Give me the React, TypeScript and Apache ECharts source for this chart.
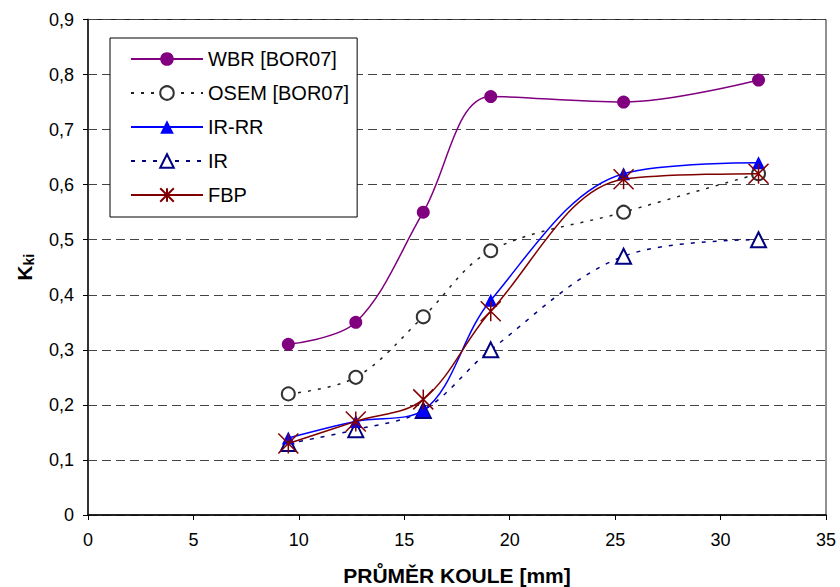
import React, { useEffect, useRef } from "react";
import * as echarts from "echarts";

const diameters = [9.5, 12.7, 15.9, 19.1, 25.4, 31.8];
const seriesNames = ["WBR [BOR07]", "OSEM [BOR07]", "IR-RR", "IR", "FBP"];
const wbr = [0.31, 0.35, 0.55, 0.76, 0.75, 0.79];
const osem = [0.22, 0.25, 0.36, 0.48, 0.55, 0.62];
const irrr = [0.14, 0.17, 0.19, 0.39, 0.62, 0.64];
const ir = [0.13, 0.155, 0.19, 0.30, 0.47, 0.50];
const fbp = [0.13, 0.17, 0.21, 0.37, 0.61, 0.62];

const FONT = "'Liberation Sans', Arial, sans-serif";
const STAR = "path://M0,0L10,10M10,0L0,10M5,0L5,10";

const pairs = (ys: number[]) => diameters.map((x, i) => [x, ys[i]]);

export default function App() {
  const ref = useRef<HTMLDivElement>(null);
  useEffect(() => {
    const chart = echarts.init(ref.current!, null, { renderer: "svg" });
    const smooth = 0.35;
    chart.setOption({
      animation: false,
      backgroundColor: "#fff",
      grid: {
        left: 88,
        right: 14,
        top: 19.5,
        bottom: 72,
        show: true,
        borderColor: "#222",
        borderWidth: 1,
        backgroundColor: "transparent",
        containLabel: false,
        outerBoundsMode: "none",
      },
      legend: {
        orient: "vertical",
        left: 110,
        top: 38,
        padding: [11, 8, 12, 20],
        itemWidth: 72,
        itemHeight: 17,
        itemGap: 14,
        borderColor: "#000",
        borderWidth: 1,
        backgroundColor: "#fff",
        textStyle: { fontFamily: FONT, fontSize: 20, color: "#000" },
        data: seriesNames,
      },
      xAxis: {
        type: "value",
        min: 0,
        max: 35,
        interval: 5,
        name: "PRŮMĚR KOULE [mm]",
        nameLocation: "middle",
        nameGap: 50,
        nameTextStyle: { fontFamily: FONT, fontSize: 21, fontWeight: "bold", color: "#000" },
        axisLine: { onZero: false, lineStyle: { color: "#000", width: 1.5 } },
        axisTick: { show: true, length: 5, lineStyle: { color: "#000" } },
        axisLabel: { fontFamily: FONT, fontSize: 18, color: "#000", margin: 16 },
        splitLine: { show: false },
      },
      yAxis: {
        type: "value",
        min: 0,
        max: 0.9,
        interval: 0.1,
        name: "{a|K}{b|ki}",
        nameLocation: "middle",
        nameGap: 52,
        nameRotate: 90,
        nameTextStyle: {
          rich: {
            a: { fontFamily: FONT, fontSize: 21, fontWeight: "bold", color: "#000" },
            b: { fontFamily: FONT, fontSize: 14, fontWeight: "bold", color: "#000", padding: [9, 0, 0, 0] },
          },
        },
        axisLine: { show: true, lineStyle: { color: "#333", width: 2 } },
        axisTick: { show: true, length: 5, lineStyle: { color: "#000" } },
        axisLabel: {
          fontFamily: FONT,
          fontSize: 18,
          color: "#000",
          margin: 14,
          formatter: (v: number) => (v === 0 ? "0" : v.toFixed(1).replace(".", ",")),
        },
        splitLine: { show: true, lineStyle: { color: "#444", width: 1.2, type: [9, 5] } },
      },
      series: [
        {
          name: seriesNames[0],
          type: "line",
          data: pairs(wbr),
          smooth,
          symbol: "circle",
          symbolSize: 13,
          lineStyle: { color: "#800080", width: 1.5 },
          itemStyle: { color: "#800080" },
          z: 5,
        },
        {
          name: seriesNames[1],
          type: "line",
          data: pairs(osem),
          smooth,
          symbol: "emptyCircle",
          symbolSize: 13,
          lineStyle: { color: "#222", width: 1.5, type: [3, 7] },
          itemStyle: { color: "#333", borderWidth: 1.3 },
          z: 3,
        },
        {
          name: seriesNames[2],
          type: "line",
          data: pairs(irrr),
          smooth,
          symbol: "triangle",
          symbolSize: 13,
          lineStyle: { color: "#0000ff", width: 1.5 },
          itemStyle: { color: "#0000ff" },
          z: 4,
        },
        {
          name: seriesNames[3],
          type: "line",
          data: pairs(ir),
          smooth,
          symbol: "emptyTriangle",
          symbolSize: 15,
          lineStyle: { color: "#000080", width: 1.5, type: [4, 7] },
          itemStyle: { color: "#000080", borderWidth: 1.3 },
          z: 3,
        },
        {
          name: seriesNames[4],
          type: "line",
          data: pairs(fbp),
          smooth,
          symbol: STAR,
          symbolSize: 20,
          lineStyle: { color: "#800000", width: 1.5 },
          itemStyle: { color: "transparent", borderColor: "#800000", borderWidth: 1.5 },
          z: 6,
        },
      ],
    });
    return () => chart.dispose();
  }, []);
  return <div ref={ref} style={{ width: 840, height: 587, position: "absolute", left: 0, top: 0 }} />;
}
